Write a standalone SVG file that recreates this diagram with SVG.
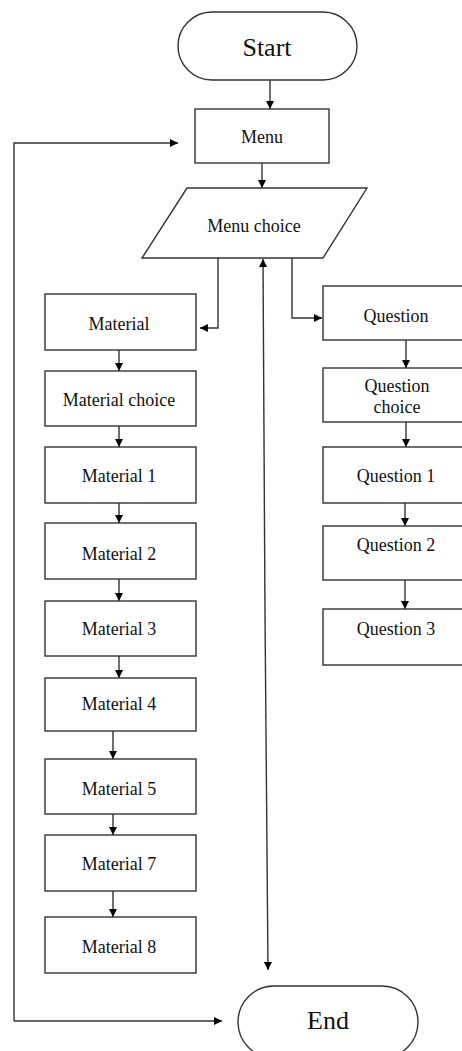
<svg xmlns="http://www.w3.org/2000/svg" width="462" height="1051" viewBox="0 0 462 1051">
<defs>
<marker id="ah" viewBox="0 0 10 10" refX="10" refY="5" markerWidth="8" markerHeight="8" markerUnits="userSpaceOnUse" orient="auto">
<path d="M0,0 L10,5 L0,10 z" fill="#000"/>
</marker>
<style>
.n{fill:#fff;stroke:#333;stroke-width:1.4}
.t{font-family:"Liberation Serif","Times New Roman",serif;font-size:18px;fill:#111;text-anchor:middle}
.big{font-size:26px}
.c{fill:none;stroke:#333;stroke-width:1.4;marker-end:url(#ah)}
</style>
</defs>
<g id="connectors">
<path class="c" d="M270,80 V109"/>
<path class="c" d="M262,163 V188"/>
<path class="c" d="M14,1021 V143 H178"/>
<path class="c" d="M14,1021 H222"/>
<path class="c" d="M218,258 V328 H200"/>
<path class="c" d="M292,258 V318 H322"/>
<path class="c" d="M265,614 L263,259"/>
<path class="c" d="M265,614 L268,970"/>
<path class="c" d="M119,350 V371"/>
<path class="c" d="M119,426 V447"/>
<path class="c" d="M119,503 V523"/>
<path class="c" d="M119,579 V601"/>
<path class="c" d="M119,656 V678"/>
<path class="c" d="M113,731 V759"/>
<path class="c" d="M113,814 V835"/>
<path class="c" d="M113,891 V917"/>
<path class="c" d="M406,340 V368"/>
<path class="c" d="M406,422 V447"/>
<path class="c" d="M405,503 V526"/>
<path class="c" d="M405,580 V609"/>
</g>
<g id="start"><rect class="n" x="178" y="12" width="179" height="68" rx="34"/><text class="t big" x="267" y="56">Start</text></g>
<g id="menu"><rect class="n" x="195" y="109" width="134" height="54"/><text class="t" x="262" y="143">Menu</text></g>
<g id="menu-choice"><polygon class="n" points="187,188 367,188 323,258 142,258"/><text class="t" x="254" y="232">Menu choice</text></g>
<g id="material"><rect class="n" x="45" y="294" width="151" height="56"/><text class="t" x="119" y="330">Material</text></g>
<g id="material-choice"><rect class="n" x="45" y="371" width="151" height="55"/><text class="t" x="119" y="406">Material choice</text></g>
<g id="material-1"><rect class="n" x="45" y="447" width="151" height="56"/><text class="t" x="119" y="482">Material 1</text></g>
<g id="material-2"><rect class="n" x="45" y="523" width="151" height="56"/><text class="t" x="119" y="560">Material 2</text></g>
<g id="material-3"><rect class="n" x="45" y="601" width="151" height="55"/><text class="t" x="119" y="635">Material 3</text></g>
<g id="material-4"><rect class="n" x="45" y="678" width="151" height="53"/><text class="t" x="119" y="710">Material 4</text></g>
<g id="material-5"><rect class="n" x="45" y="759" width="151" height="55"/><text class="t" x="119" y="795">Material 5</text></g>
<g id="material-7"><rect class="n" x="45" y="835" width="151" height="56"/><text class="t" x="119" y="870">Material 7</text></g>
<g id="material-8"><rect class="n" x="45" y="917" width="151" height="56"/><text class="t" x="119" y="953">Material 8</text></g>
<g id="question"><rect class="n" x="323" y="286" width="146" height="54"/><text class="t" x="396" y="322">Question</text></g>
<g id="question-choice"><rect class="n" x="323" y="368" width="146" height="54"/><text class="t" x="397" y="392">Question</text><text class="t" x="397" y="413">choice</text></g>
<g id="question-1"><rect class="n" x="323" y="447" width="146" height="56"/><text class="t" x="396" y="482">Question 1</text></g>
<g id="question-2"><rect class="n" x="323" y="526" width="146" height="54"/><text class="t" x="396" y="551">Question 2</text></g>
<g id="question-3"><rect class="n" x="323" y="609" width="146" height="56"/><text class="t" x="396" y="635">Question 3</text></g>
<g id="end"><rect class="n" x="238" y="986" width="180" height="72" rx="36"/><text class="t big" x="328" y="1029">End</text></g>
</svg>
